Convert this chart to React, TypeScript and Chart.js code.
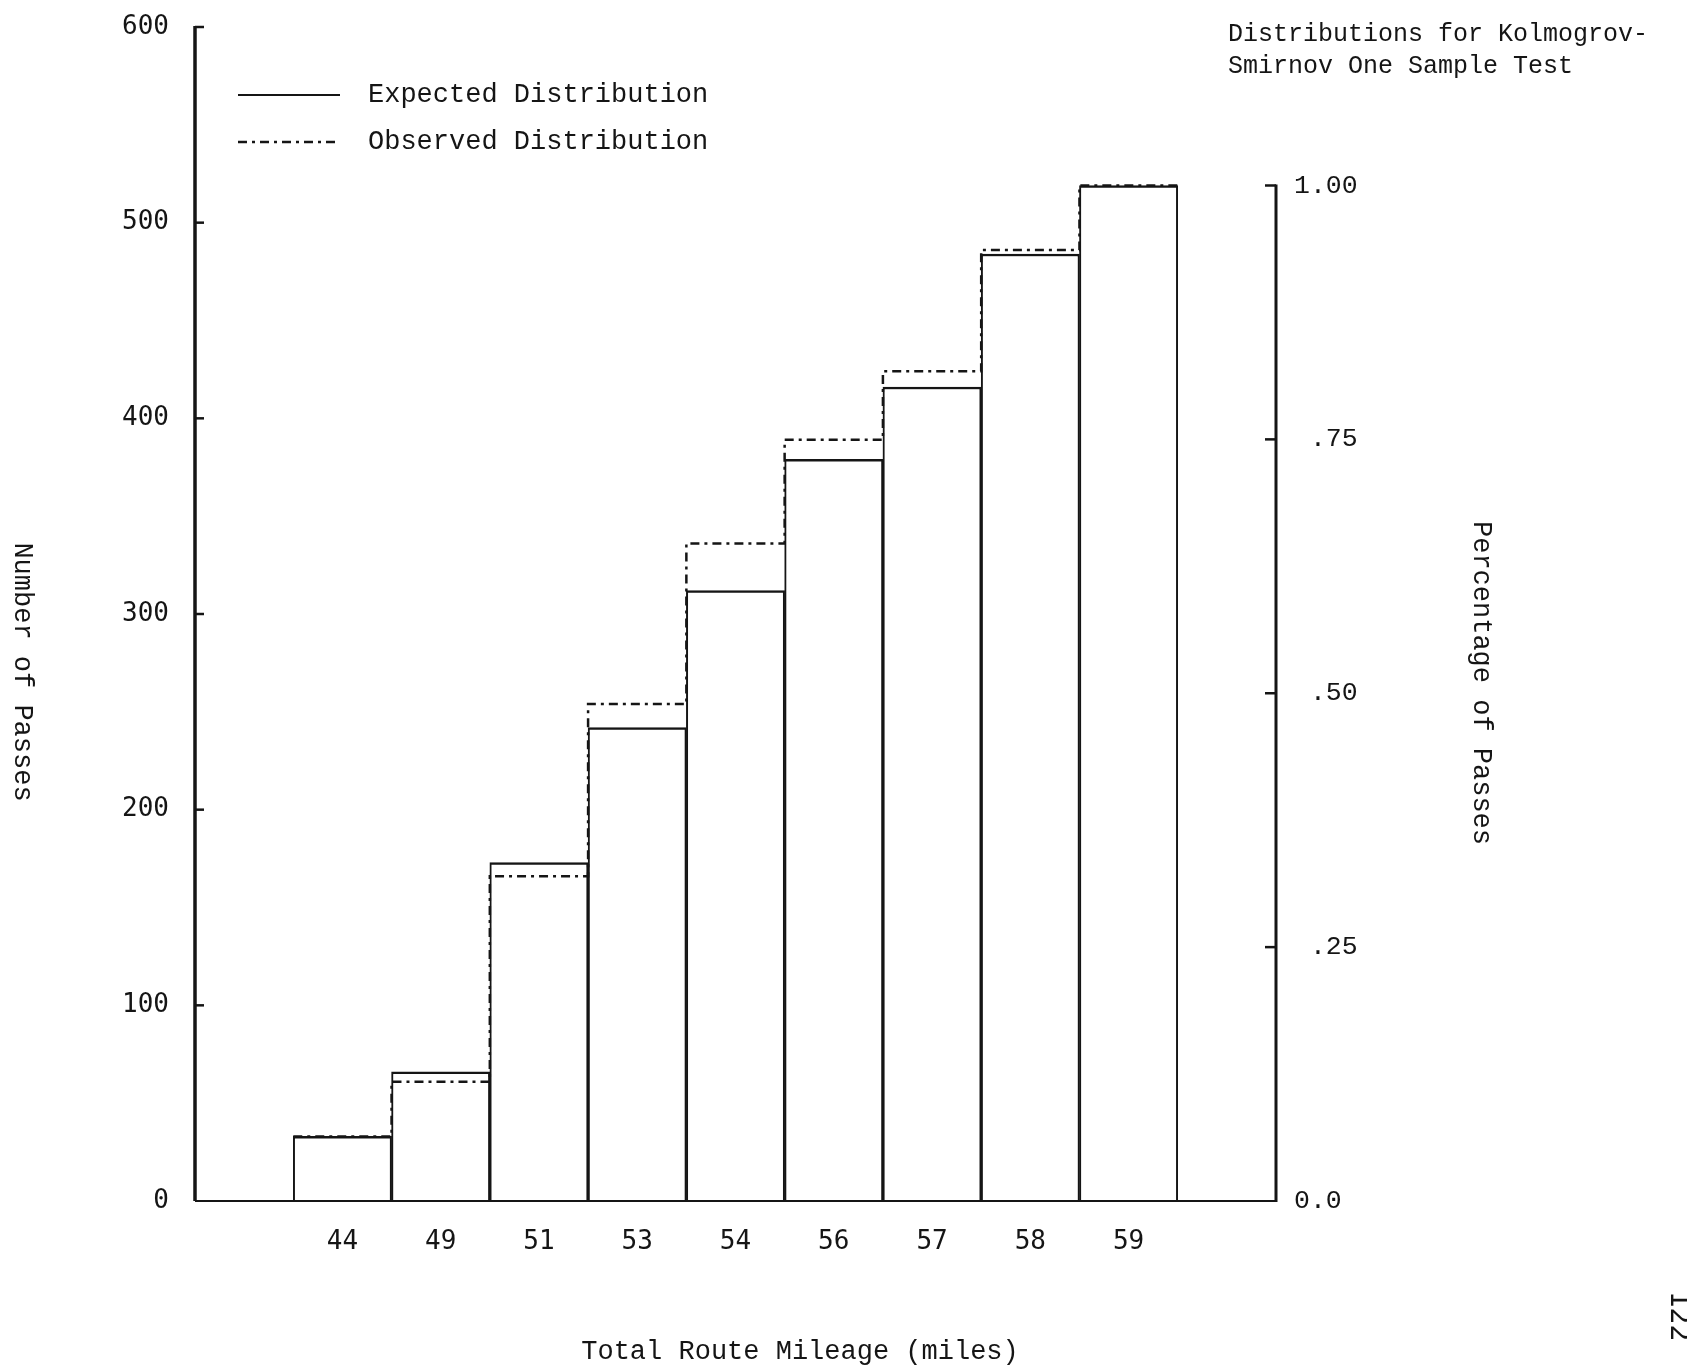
import React, { useEffect, useRef } from 'react';
import { Chart, registerables } from 'chart.js';

Chart.register(...registerables);

// Route mileage classes along the bottom
const mileageLabels = ['44', '49', '51', '53', '54', '56', '57', '58', '59'];
// Cumulative number of passes, expected (solid bars) and observed (dash-dot steps)
const expectedCounts = [33, 66, 173, 242, 312, 379, 416, 484, 519];
const observedCounts = [33, 61, 166, 254, 336, 389, 424, 486, 519];
// Total passes: the count that corresponds to 1.00 on the right-hand scale
const totalPasses = 519;

// Tick values and labels
const countTicks = [0, 100, 200, 300, 400, 500, 600];
const shareTicks = [0, 0.25, 0.5, 0.75, 1];
const shareTickLabels = ['0.0', ' .25', ' .50', ' .75', '1.00'];

const W = 1687;
const H = 1372;
const AREA = { left: 195, right: 1276, top: 27, bottom: 1201 };
const INK = '#151515';
const TYPE = '"Liberation Mono", "Courier New", monospace';
const GOTHIC = '"DejaVu Sans Mono", "Liberation Mono", monospace';
const OBS_DASH = [9, 5, 3, 5];

function putText(
  ctx: CanvasRenderingContext2D,
  text: string,
  x: number,
  y: number,
  font: string,
  align: CanvasTextAlign = 'left',
  rotation = 0,
  baseline: CanvasTextBaseline = 'middle'
) {
  ctx.save();
  ctx.translate(x, y);
  if (rotation) ctx.rotate(rotation);
  ctx.font = font;
  ctx.fillStyle = INK;
  ctx.textAlign = align;
  ctx.textBaseline = baseline;
  ctx.fillText(text, 0, 0);
  ctx.restore();
}

// Keep the plot area fixed: no extra room reserved for overhanging tick labels
function noOverhang(s: any) {
  s.paddingTop = 0;
  s.paddingBottom = 0;
  s.paddingLeft = 0;
  s.paddingRight = 0;
}

// Axis lines and inward tick marks, typed-graph style
const axisFrame = {
  id: 'axisFrame',
  afterDatasetsDraw(chart: any) {
    const { ctx, chartArea, scales } = chart;
    const y = scales.y;
    const y2 = scales.y2;
    const zero = y.getPixelForValue(0);
    ctx.save();
    ctx.strokeStyle = INK;
    ctx.lineCap = 'butt';

    // baseline
    ctx.lineWidth = 2;
    ctx.beginPath();
    ctx.moveTo(chartArea.left, zero);
    ctx.lineTo(chartArea.right, zero);
    ctx.stroke();

    // left axis with ticks pointing inward
    ctx.lineWidth = 3.5;
    ctx.beginPath();
    ctx.moveTo(chartArea.left, y.getPixelForValue(countTicks[countTicks.length - 1]) - 1);
    ctx.lineTo(chartArea.left, zero);
    ctx.stroke();
    ctx.lineWidth = 2.5;
    countTicks.forEach((v) => {
      if (v === 0) return;
      const py = y.getPixelForValue(v);
      ctx.beginPath();
      ctx.moveTo(chartArea.left, py);
      ctx.lineTo(chartArea.left + 9, py);
      ctx.stroke();
    });

    // right axis from 1.00 down to the baseline, ticks pointing inward
    ctx.lineWidth = 3;
    ctx.beginPath();
    ctx.moveTo(chartArea.right, y2.getPixelForValue(1) - 1);
    ctx.lineTo(chartArea.right, zero + 1);
    ctx.stroke();
    ctx.lineWidth = 2.5;
    shareTicks.forEach((v) => {
      if (v === 0) return;
      const py = y2.getPixelForValue(v);
      ctx.beginPath();
      ctx.moveTo(chartArea.right, py);
      ctx.lineTo(chartArea.right - 11, py);
      ctx.stroke();
    });
    ctx.restore();
  },
};

// Titles, legend and page number
const typedText = {
  id: 'typedText',
  afterDraw(chart: any) {
    const { ctx } = chart;
    const datasets = chart.data.datasets;

    putText(ctx, 'Distributions for Kolmogrov-', 1228, 34, `25px ${TYPE}`);
    putText(ctx, 'Smirnov One Sample Test', 1228, 66, `25px ${TYPE}`);

    // legend
    const rows = [
      { y: 95, ds: datasets[0], dash: [] as number[] },
      { y: 142, ds: datasets[1], dash: OBS_DASH },
    ];
    rows.forEach((r) => {
      ctx.save();
      ctx.strokeStyle = INK;
      ctx.lineWidth = r.dash.length ? 2.5 : 2;
      ctx.setLineDash(r.dash);
      ctx.beginPath();
      ctx.moveTo(238, r.y);
      ctx.lineTo(340, r.y);
      ctx.stroke();
      ctx.restore();
      putText(ctx, r.ds.label, 368, r.y, `27px ${TYPE}`);
    });

    putText(ctx, 'Number of Passes', 22, 672, `27px ${TYPE}`, 'center', Math.PI / 2);
    putText(ctx, 'Percentage of Passes', 1481, 683, `27px ${TYPE}`, 'center', Math.PI / 2);
    putText(ctx, 'Total Route Mileage (miles)', 800, 1352, `27px ${TYPE}`, 'center');
    putText(ctx, '122', 1671, 1316, `28px ${GOTHIC}`, 'center', Math.PI / 2, 'alphabetic');
  },
};

export default function App() {
  const canvasRef = useRef<HTMLCanvasElement | null>(null);

  useEffect(() => {
    const canvas = canvasRef.current;
    if (!canvas) return;

    const barData = expectedCounts.map((v, i) => ({ x: i + 1.5, y: v }));
    const stepData = observedCounts.map((v, i) => ({ x: i + 1, y: v }));
    stepData.push({ x: observedCounts.length + 1, y: observedCounts[observedCounts.length - 1] });

    const chart = new Chart(canvas, {
      type: 'bar',
      data: {
        datasets: [
          {
            type: 'bar',
            label: 'Expected Distribution',
            data: barData as any,
            backgroundColor: '#ffffff',
            borderColor: INK,
            borderWidth: { top: 2.5, left: 2, right: 2, bottom: 0 },
            borderSkipped: 'bottom',
            barPercentage: 1,
            categoryPercentage: 1,
            order: 2,
          } as any,
          {
            type: 'line',
            label: 'Observed Distribution',
            data: stepData as any,
            borderColor: INK,
            borderWidth: 2.5,
            borderDash: OBS_DASH,
            stepped: 'before',
            pointRadius: 0,
            fill: false,
            order: 1,
          } as any,
        ],
      },
      options: {
        responsive: false,
        animation: false,
        devicePixelRatio: 1,
        layout: { padding: { top: AREA.top, left: 0, right: 0, bottom: 0 } },
        plugins: {
          legend: { display: false },
          tooltip: { enabled: false },
          title: { display: false },
        },
        scales: {
          x: {
            type: 'linear',
            min: 0,
            max: mileageLabels.length + 2,
            offset: false,
            grid: { display: false, drawTicks: false, offset: false },
            border: { display: false },
            afterBuildTicks: (s: any) => {
              s.ticks = mileageLabels.map((_, i) => ({ value: i + 1.5 }));
            },
            afterFit: (s: any) => {
              s.height = H - AREA.bottom;
              noOverhang(s);
            },
            ticks: {
              autoSkip: false,
              maxRotation: 0,
              padding: 26,
              color: INK,
              font: { family: GOTHIC, size: 26 },
              callback: (v: any) => mileageLabels[Math.round(Number(v) - 1.5)] ?? '',
            },
          },
          y: {
            type: 'linear',
            position: 'left',
            min: 0,
            max: countTicks[countTicks.length - 1],
            grid: { display: false, drawTicks: false },
            border: { display: false },
            afterBuildTicks: (s: any) => {
              s.ticks = countTicks.map((v) => ({ value: v }));
            },
            afterFit: (s: any) => {
              s.width = AREA.left;
              noOverhang(s);
            },
            ticks: {
              padding: 26,
              color: INK,
              font: { family: GOTHIC, size: 26 },
              callback: (v: any) => String(v),
            },
          },
          y2: {
            type: 'linear',
            position: 'right',
            min: 0,
            max: countTicks[countTicks.length - 1] / totalPasses,
            grid: { display: false, drawTicks: false },
            border: { display: false },
            afterBuildTicks: (s: any) => {
              s.ticks = shareTicks.map((v) => ({ value: v }));
            },
            afterFit: (s: any) => {
              s.width = W - AREA.right;
              noOverhang(s);
            },
            ticks: {
              padding: 18,
              color: INK,
              font: { family: TYPE, size: 26.5 },
              callback: (v: any) => shareTickLabels[shareTicks.indexOf(Number(v))] ?? '',
            },
          },
        },
      } as any,
      plugins: [axisFrame, typedText],
    });

    return () => chart.destroy();
  }, []);

  return (
    <div style={{ position: 'fixed', left: 0, top: 0, width: W, height: H, background: '#ffffff' }}>
      <canvas ref={canvasRef} width={W} height={H} style={{ width: W, height: H, display: 'block' }} />
    </div>
  );
}
